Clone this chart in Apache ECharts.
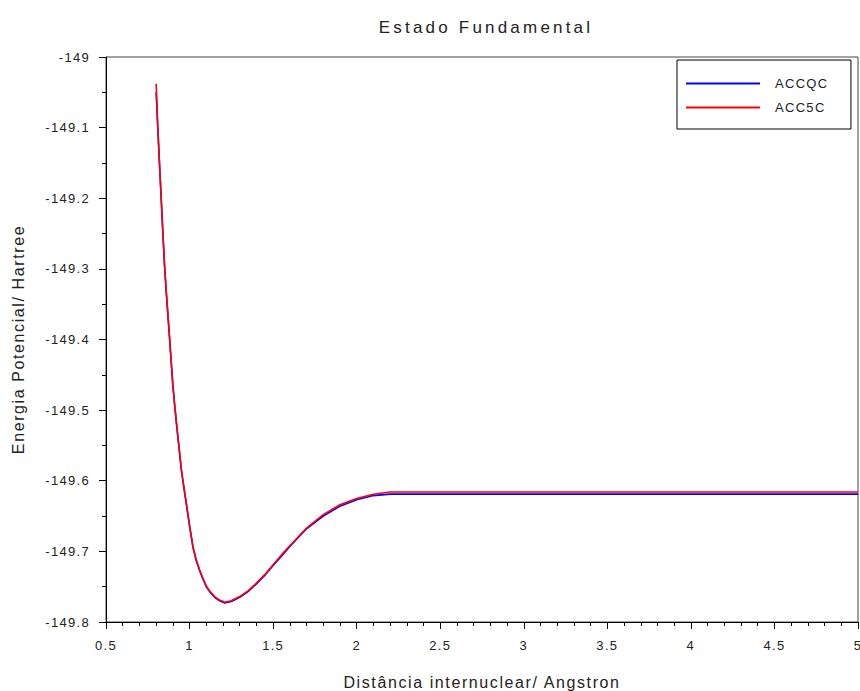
<!DOCTYPE html>
<html>
<head>
<meta charset="utf-8">
<script src="https://cdn.jsdelivr.net/npm/echarts@6/dist/echarts.min.js"></script>
<style>
  html, body { margin: 0; padding: 0; background: #fff; }
  #chart { width: 860px; height: 691px; }
  /* espaçamento de letras como no original */
  #chart text { letter-spacing: 1.3px; }
  #chart text[style*="16px"] { letter-spacing: 1.6px; }
  #chart text[style*="17px"] { letter-spacing: 3.2px; }
</style>
</head>
<body>
<div id="chart"></div>
<script>
// distância internuclear (Angstron)
const distances = [
  0.80, 0.81, 0.82, 0.83, 0.84, 0.85, 0.86, 0.87, 0.88, 0.89,
  0.90, 0.91, 0.92, 0.93, 0.94, 0.95, 0.96, 0.97, 0.98, 1.00,
  1.02, 1.04, 1.06, 1.08, 1.10, 1.12, 1.15, 1.18, 1.21, 1.25,
  1.30, 1.35, 1.40, 1.45, 1.50, 1.55, 1.60, 1.70, 1.80, 1.90,
  2.00, 2.10, 2.20, 5.00,
];
// energia (Hartree)
const accqc = [
  -149.050, -149.101, -149.151, -149.199, -149.248, -149.294, -149.331, -149.364, -149.397, -149.431,
  -149.465, -149.491, -149.515, -149.538, -149.560, -149.583, -149.600, -149.616, -149.632, -149.664,
  -149.694, -149.713, -149.727, -149.739, -149.750, -149.757, -149.765, -149.770, -149.773, -149.771,
  -149.765, -149.757, -149.746, -149.734, -149.720, -149.707, -149.693, -149.668, -149.650, -149.636,
  -149.627, -149.621, -149.619, -149.619,
];
const acc5c = [
  -149.038, -149.100, -149.150, -149.198, -149.247, -149.293, -149.330, -149.363, -149.396, -149.430,
  -149.464, -149.490, -149.514, -149.537, -149.559, -149.582, -149.599, -149.615, -149.631, -149.663,
  -149.693, -149.712, -149.726, -149.738, -149.749, -149.756, -149.764, -149.769, -149.772, -149.770,
  -149.764, -149.756, -149.745, -149.733, -149.719, -149.705, -149.692, -149.667, -149.648, -149.634,
  -149.625, -149.619, -149.616, -149.616,
];
const seriesNames = ['ACCQC', 'ACC5C'];

const font = 'Liberation Sans, Arial, sans-serif';
const pair = (ys) => distances.map((x, i) => [x, ys[i]]);

const chart = echarts.init(document.getElementById('chart'), null, { renderer: 'svg' });
chart.setOption({
  animation: false,
  textStyle: { fontFamily: font },
  title: {
    text: 'Estado Fundamental',
    left: 481,
    top: 14,
    textAlign: 'center',
    textStyle: { fontFamily: font, fontSize: 17, fontWeight: 'normal', color: '#222' },
  },
  legend: {
    orient: 'vertical',
    left: 677,
    top: 60,
    padding: [17, 29, 15, 9],
    itemGap: 11,
    itemWidth: 74,
    itemHeight: 2,
    icon: 'rect',
    borderColor: '#000',
    borderWidth: 1,
    textStyle: { fontFamily: font, fontSize: 13, color: '#222', padding: [0, 0, 0, 10] },
    data: seriesNames,
  },
  grid: {
    left: 106,
    right: 2,
    top: 57,
    bottom: 69,
    outerBoundsMode: 'none',
    show: true,
    borderColor: '#444',
    borderWidth: 1,
  },
  xAxis: {
    type: 'value',
    min: 0.5,
    max: 5,
    interval: 0.5,
    name: 'Distância internuclear/ Angstron',
    nameLocation: 'middle',
    nameGap: 52,
    nameTextStyle: { fontFamily: font, fontSize: 16, color: '#222' },
    axisLine: { lineStyle: { color: '#000' } },
    axisTick: { length: 7, lineStyle: { color: '#000' } },
    minorTick: { show: true, splitNumber: 5, length: 4, lineStyle: { color: '#000' } },
    axisLabel: { fontFamily: font, fontSize: 13, color: '#222', margin: 17 },
    splitLine: { show: false },
  },
  yAxis: {
    type: 'value',
    min: -149.8,
    max: -149,
    interval: 0.1,
    name: 'Energia Potencial/ Hartree',
    nameLocation: 'middle',
    nameGap: 80,
    nameTextStyle: { fontFamily: font, fontSize: 16, color: '#222' },
    axisLine: { show: true, lineStyle: { color: '#000' } },
    axisTick: { show: true, length: 7, lineStyle: { color: '#000' } },
    minorTick: { show: true, splitNumber: 2, length: 4, lineStyle: { color: '#000' } },
    axisLabel: { fontFamily: font, fontSize: 13, color: '#222', margin: 16 },
    splitLine: { show: false },
  },
  series: [
    {
      name: seriesNames[0],
      type: 'line',
      symbol: 'none',
      data: pair(accqc),
      lineStyle: { color: '#0000ff', width: 1.6 },
      itemStyle: { color: '#0000ff' },
    },
    {
      name: seriesNames[1],
      type: 'line',
      symbol: 'none',
      data: pair(acc5c),
      lineStyle: { color: '#ff0000', width: 1.6 },
      itemStyle: { color: '#ff0000' },
    },
  ],
});
</script>
</body>
</html>
